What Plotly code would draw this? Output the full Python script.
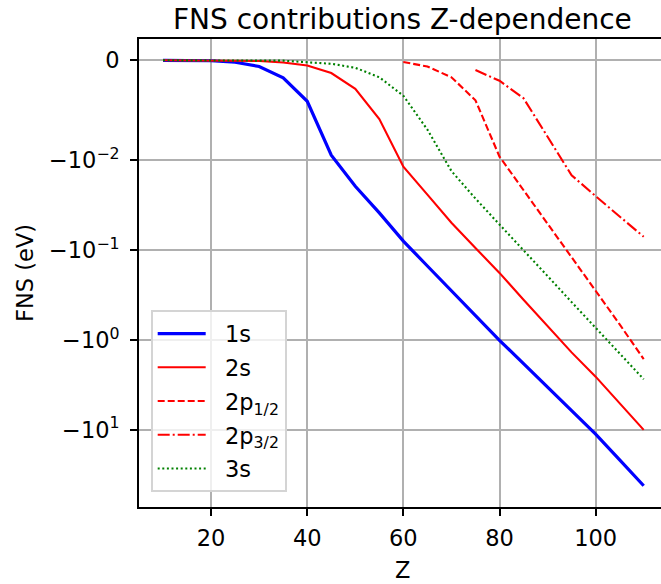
import numpy as np
import plotly.graph_objects as go

# ---- data (eV) ----
Z = [10, 15, 20, 25, 30, 35, 40, 45, 50, 55, 60, 65, 70, 75, 80, 85, 90, 95, 100, 105, 110]

fns_1s = [-0.00001, -0.00003, -0.00005, -0.0002, -0.00062, -0.00175, -0.0041, -0.0095,
          -0.0195, -0.0385, -0.0794, -0.15, -0.284, -0.537, -1.005, -1.83, -3.34, -6.1,
          -11.1, -21.5, -41.6]
fns_2s = [-0.000001, -0.000003, -0.00001, -0.00003, -0.00008, -0.00022, -0.00052, -0.00128,
          -0.00285, -0.00588, -0.0118, -0.0241, -0.0496, -0.0946, -0.179, -0.356, -0.698,
          -1.37, -2.55, -5.0, -9.95]
fns_3s = [-0.0000001, -0.0000004, -0.000001, -0.000004, -0.00001, -0.00004, -0.0002, -0.00035,
          -0.00075, -0.0017, -0.00355, -0.00694, -0.0132, -0.0267, -0.0519, -0.0995, -0.194,
          -0.378, -0.735, -1.43, -2.72]

Z_2p12 = [60, 65, 70, 75, 80, 85, 90, 95, 100, 105, 110]
fns_2p12 = [-0.00018, -0.00062, -0.0017, -0.004, -0.00964, -0.0215, -0.0508, -0.12,
            -0.283, -0.668, -1.63]

Z_2p32 = [75, 80, 85, 90, 95, 100, 105, 110]
fns_2p32 = [-0.00098, -0.00205, -0.0038, -0.00764, -0.0147, -0.0251, -0.0423, -0.071]

series_names = ["1s", "2s", "2p<sub>1/2</sub>", "2p<sub>3/2</sub>", "3s"]

y_tick_values = [0, -0.01, -0.1, -1, -10]
y_tick_labels = ["0", "\u221210<sup>\u22122</sup>", "\u221210<sup>\u22121</sup>",
                 "\u221210<sup>0</sup>", "\u221210<sup>1</sup>"]
x_tick_values = [20, 40, 60, 80, 100]

# ---- symmetric-log scale (linthresh 0.01, linscale 1, base 10) ----
LINTHRESH = 0.01
LINSCALE_ADJ = 1.0 / (1.0 - 0.1)


def symlog(v):
    v = np.asarray(v, dtype=float)
    a = np.abs(v)
    out = np.where(a <= LINTHRESH, a / LINTHRESH * LINSCALE_ADJ,
                   LINSCALE_ADJ + np.log10(np.maximum(a, LINTHRESH) / LINTHRESH))
    return np.sign(v) * out


FONT = "DejaVu Sans"
TICK = 22.5
fig = go.Figure()

styles = [
    ("#0000ff", 3.2, "solid"),
    ("#ff0000", 2.1, "solid"),
    ("#ff0000", 2.1, "7px,3px"),
    ("#ff0000", 2.1, "12px,3px,2px,3px"),
    ("#008000", 2.1, "2px,2.6px"),
]
data = [(Z, fns_1s), (Z, fns_2s), (Z_2p12, fns_2p12), (Z_2p32, fns_2p32), (Z, fns_3s)]
for i, ((zx, vals), name, (col, w, dash)) in enumerate(zip(data, series_names, styles)):
    fig.add_trace(go.Scatter(
        x=zx, y=symlog(vals), mode="lines", name="\u00a0\u00a0" + name,
        line=dict(color=col, width=w, dash=dash),
        legendgroup=f"g{i}",
    ))

all_t = np.concatenate([symlog(v) for _, v in data])
tmin, tmax = all_t.min(), all_t.max()
pad = 0.05 * (tmax - tmin)

fig.update_layout(
    width=661, height=584,
    margin=dict(l=139, r=0, t=39, b=77),
    paper_bgcolor="white", plot_bgcolor="white",
    font=dict(family=FONT, size=TICK, color="black"),
    showlegend=True,
    legend=dict(
        x=0.0224, y=0.42, xanchor="left", yanchor="top",
        bgcolor="rgba(255,255,255,0.8)", bordercolor="#d4d4d4", borderwidth=2,
        font=dict(family=FONT, size=TICK), tracegroupgap=1.5,
        itemwidth=48,
    ),
    xaxis=dict(
        range=[5, 113.6], tickvals=x_tick_values, ticks="outside", ticklen=7,
        tickwidth=1.8, tickcolor="black", showline=True, linecolor="black",
        linewidth=1.8, mirror=True, showgrid=True, gridcolor="#b0b0b0",
        gridwidth=1.6, zeroline=False, tickfont=dict(size=TICK),
        ticklabelstandoff=3,
    ),
    yaxis=dict(
        range=[tmin - pad, tmax + pad], tickvals=list(symlog(y_tick_values)),
        ticktext=y_tick_labels, ticks="outside", ticklen=7, tickwidth=1.8,
        tickcolor="black", showline=True, linecolor="black", linewidth=1.8,
        mirror=False, showgrid=True, gridcolor="#b0b0b0", gridwidth=1.6,
        zeroline=False, tickfont=dict(size=TICK), ticklabelstandoff=6,
    ),
    annotations=[
        dict(text="FNS contributions Z-dependence", xref="paper", yref="paper",
             x=0.5057, y=1.0, yshift=20, xanchor="center", yanchor="middle",
             showarrow=False, font=dict(family=FONT, size=28)),
        dict(text="Z", xref="paper", yref="paper", x=0.5057, y=0, yshift=-63,
             xanchor="center", yanchor="middle", showarrow=False,
             font=dict(family=FONT, size=TICK)),
        dict(text="FNS (eV)", xref="paper", yref="paper", x=0, xshift=-114,
             y=0.5, xanchor="center", yanchor="middle", textangle=-90,
             showarrow=False, font=dict(family=FONT, size=TICK)),
    ],
)

fig.write_html("out.html",
               config={"displayModeBar": False},
               post_script="document.body.style.margin='0px';document.body.style.overflow='hidden';")
